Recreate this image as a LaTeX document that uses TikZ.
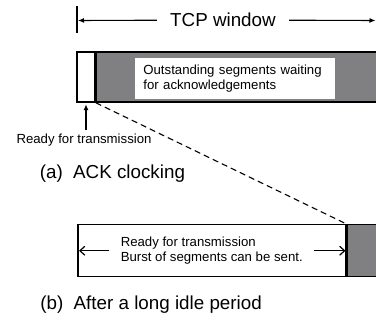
\documentclass[tikz,border=0pt]{standalone}
\usepackage{fontspec}
\setmainfont{Liberation Sans}
\usepackage{tikz}
\tikzset{every picture/.style={line width=0.75pt}}
\usepackage{color}
\usetikzlibrary{arrows.meta}
\definecolor{winGray}{RGB}{128,128,130}

\begin{document}
\begin{tikzpicture}[x=1pt,y=1pt,yscale=-1,
  cellbox/.style={draw, line width=1.5pt, inner sep=0pt},
  small/.style={font=\fontsize{13.2}{15.3}\selectfont},
  big/.style={font=\fontsize{18.8}{22}\selectfont},
  filltip/.style={-{Latex[length=6pt,width=5pt]}, line width=1.1pt},
  opentip/.style={-{Straight Barb[length=5pt,width=9pt]}, line width=1.2pt}]
\useasboundingbox (0,0) rectangle (376,320);
\clip (0,0) rectangle (376,320);

%Straight Lines
\draw [line width=1.8pt]  (77.3,6.5) -- (77.3,33) ;
\coordinate (winL) at (78,20.5);
\coordinate (winR) at (375.5,20.5);

% Text Node
\node [big, inner xsep=13pt] (winTxt) at (223,20) {TCP window};
%Straight Lines
\draw [filltip]  (winTxt) -- (winL) ;
\draw [filltip]  (winTxt) -- (winR) ;

%Shape: Rectangle
\node [cellbox, fill=white, minimum width=18pt, minimum height=50pt] (readyA) at (86,77) {};
\node [cellbox, fill=winGray, minimum width=300pt, minimum height=50pt, anchor=west] (outA) at (readyA.east) {};

% Text Node
\node [small, fill=white, anchor=north west, inner xsep=8pt, inner ysep=0pt, minimum height=41pt, text width=184pt, align=left] (outTxt) at (135,58) {Outstanding segments waiting\\for acknowledgements};

% Text Node
\node [small, anchor=base] (lblA) at (84,143.3) {Ready for transmission};
%Straight Lines
\draw [filltip, shorten >=1.5pt]  (readyA.south |- lblA.north) -- (readyA.south) ;

% Text Node
\node [big, anchor=base west, inner sep=0pt] (capA) at (39.5,178.3) {(a)\hspace{0.55em}ACK clocking};

%Shape: Rectangle
\node [cellbox, fill=white, minimum width=268pt, minimum height=52pt, anchor=north west] (readyB) at (77,224) {};
\node [cellbox, fill=winGray, minimum width=60pt, minimum height=52pt, anchor=west] (outB) at (readyB.east) {};

%Straight Lines
\draw [dashed, dash pattern=on 6pt off 4pt, line width=1.1pt]  (readyA.south east) -- (readyB.north east) ;

% Text Node
\node [small, inner xsep=11pt, align=left] (txtB) at (readyB.center) {Ready for transmission\\Burst of segments can be sent.};
%Straight Lines
\draw [opentip, shorten >=2pt]  (txtB.west) -- (txtB.west -| readyB.west) ;
\draw [opentip, shorten >=1pt]  (txtB.east) -- (txtB.east -| readyB.east) ;

% Text Node
\node [big, anchor=base west, inner sep=0pt] (capB) at (40,310) {(b)\hspace{0.55em}After a long idle period};
\end{tikzpicture}
\end{document}
